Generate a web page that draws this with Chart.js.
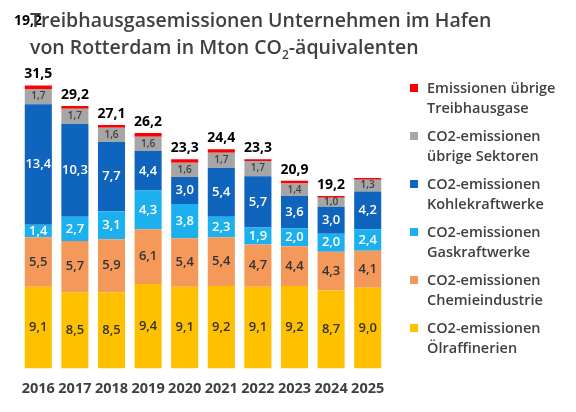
<!DOCTYPE html>
<html><head><meta charset="utf-8">
<script src="https://cdn.jsdelivr.net/npm/chart.js@4"></script>
<style>
body{margin:0;width:576px;height:412px;background:#fff;font-family:"Open Sans",sans-serif;overflow:hidden}
#wrap{position:absolute;left:0;top:0;width:576px;height:412px}
#title{position:absolute;left:30px;top:6px;font-size:19.5px;font-weight:600;color:#404040;line-height:27px}
#legend{position:absolute;left:410px;top:78px;width:170px}
.item{position:relative;height:48px;font-size:14.5px;font-weight:600;color:#404040;line-height:20px;padding-left:17px}
.box{position:absolute;left:0;top:6px;width:8px;height:8px}
#stray{position:absolute;left:14px;top:10px;font-size:14px;font-weight:700;color:#000}
</style></head><body>
<div id="wrap"><canvas id="c" width="576" height="412"></canvas></div>
<div id="stray">19,2</div>
<div id="title">Treibhausgasemissionen Unternehmen im Hafen<br>von Rotterdam in Mton CO<sub style="font-size:12px">2</sub>-äquivalenten</div>
<div id="legend"></div>
<script>
const years = ["2016","2017","2018","2019","2020","2021","2022","2023","2024","2025"];
const oel = [9.1,8.5,8.5,9.4,9.1,9.2,9.1,9.2,8.7,9.0];
const chemie = [5.5,5.7,5.9,6.1,5.4,5.4,4.7,4.4,4.3,4.1];
const gas = [1.4,2.7,3.1,4.3,3.8,2.3,1.9,2.0,2.0,2.4];
const kohle = [13.4,10.3,7.7,4.4,3.0,5.4,5.7,3.6,3.0,4.2];
const uebrigSek = [1.7,1.7,1.6,1.6,1.6,1.7,1.7,1.4,1.0,1.3];
const uebrigTHG = [0.4,0.3,0.3,0.4,0.4,0.4,0.2,0.3,0.2,0.2];
const totals = ["31,5","29,2","27,1","26,2","23,3","24,4","23,3","20,9","19,2",""];

const series = [
  {label:["CO2-emissionen","Ölraffinerien"], data:oel, color:"#FFC000"},
  {label:["CO2-emissionen","Chemieindustrie"], data:chemie, color:"#F4995A"},
  {label:["CO2-emissionen","Gaskraftwerke"], data:gas, color:"#1CB0EE"},
  {label:["CO2-emissionen","Kohlekraftwerke"], data:kohle, color:"#0F64BE"},
  {label:["CO2-emissionen","übrige Sektoren"], data:uebrigSek, color:"#A6A6A6"},
  {label:["Emissionen übrige","Treibhausgase"], data:uebrigTHG, color:"#FF0000"}
];

const leg = document.getElementById("legend");
series.slice().reverse().forEach(s=>{
  const d=document.createElement("div");d.className="item";
  d.innerHTML='<span class="box" style="background:'+s.color+'"></span>'+s.label.join("<br>");
  leg.appendChild(d);
});

const labelPlugin = {
  id:"labels",
  afterDatasetsDraw(chart){
    const ctx=chart.ctx;
    ctx.save();ctx.textAlign="center";ctx.textBaseline="middle";
    chart.data.datasets.forEach((ds,i)=>{
      if(i===5) return;
      chart.getDatasetMeta(i).data.forEach((bar,j)=>{
        const y=(bar.y+bar.base)/2;
        ctx.font=(i===4?"600 10px":"600 13px")+' "Open Sans"';
        ctx.fillStyle=(i===2||i===3)?"#fff":(i===4?"#404040":"#333");
        ctx.fillText(ds.data[j].toFixed(1).replace(".",","),bar.x,y);
      });
    });
    const top=chart.getDatasetMeta(5).data;
    ctx.font='700 14px "Open Sans"';ctx.fillStyle="#000";
    top.forEach((bar,j)=>{ if(totals[j]) ctx.fillText(totals[j],bar.x,bar.y-11); });
    ctx.restore();
  }
};

new Chart(document.getElementById("c"),{
  type:"bar",
  data:{labels:years,datasets:series.map(s=>({label:s.label.join(" "),data:s.data,backgroundColor:s.color,
    barPercentage:0.74,categoryPercentage:1}))},
  options:{responsive:false,animation:false,
    layout:{padding:{left:20,right:190,top:0,bottom:10}},
    plugins:{legend:{display:false},tooltip:{enabled:false}},
    scales:{
      x:{stacked:true,grid:{display:false},border:{display:false},
        ticks:{color:"#404040",font:{family:"Open Sans",size:14.5,weight:"700"},padding:4,maxRotation:0,autoSkip:false}},
      y:{stacked:true,display:false,min:0,max:41}
    }},
  plugins:[labelPlugin]
});
</script></body></html>
